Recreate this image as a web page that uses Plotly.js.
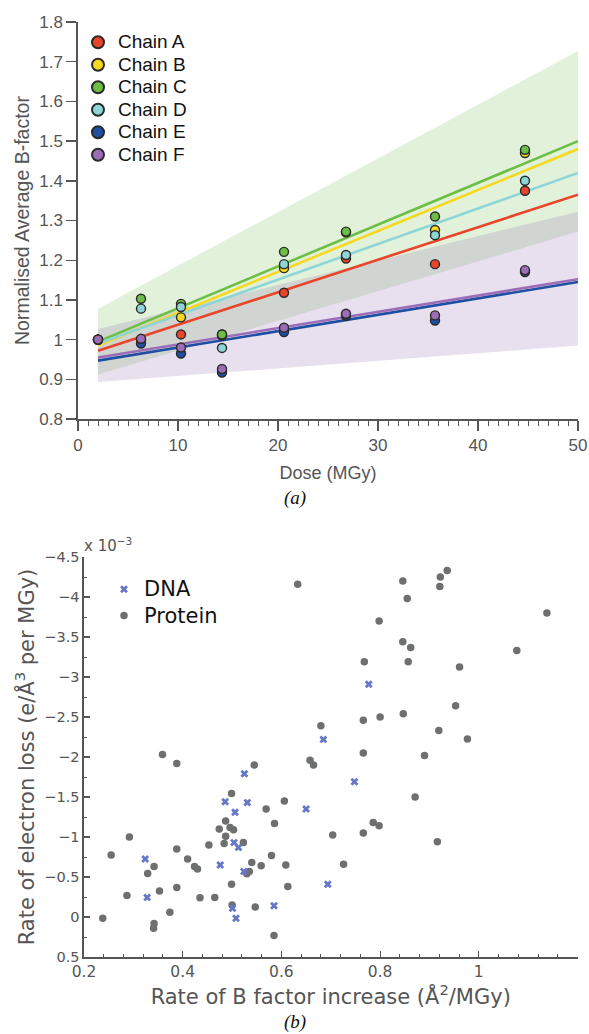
<!DOCTYPE html>
<html><head><meta charset="utf-8">
<script src="https://cdn.plot.ly/plotly-3.0.1.min.js"></script>
<style>html,body{margin:0;padding:0;background:#fff}#chart{width:589px;height:1034px}</style>
</head><body><div id="chart"></div>
<script>
// ---------- Panel (a) data ----------
const doses = [2, 6.3, 10.3, 14.4, 20.6, 26.8, 35.7, 44.7];
const chainNames = ['Chain A', 'Chain B', 'Chain C', 'Chain D', 'Chain E', 'Chain F'];
const chainA = [1.0, 1.0, 1.013, 1.01, 1.118, 1.204, 1.19, 1.375];
const chainB = [1.0, 1.0, 1.056, 1.013, 1.18, 1.27, 1.276, 1.47];
const chainC = [1.0, 1.103, 1.09, 1.013, 1.221, 1.272, 1.31, 1.478];
const chainD = [1.0, 1.078, 1.082, 0.979, 1.19, 1.213, 1.263, 1.40];
const chainE = [1.0, 0.99, 0.965, 0.917, 1.019, 1.06, 1.048, 1.17];
const chainF = [1.0, 1.002, 0.98, 0.926, 1.03, 1.065, 1.061, 1.175];
const chainColors = ['#E8452A', '#F6D81E', '#6DBE45', '#8ED5D6', '#1E4FA3', '#9B6DB6'];
// fitted lines: value at first and last fit dose
const fitDose = [2, 50];
const fitStart = [0.972, 0.985, 0.995, 0.99, 0.947, 0.955];
const fitEnd = [1.365, 1.48, 1.50, 1.42, 1.145, 1.152];
// confidence bands (Chain C green, Chain F purple)
const bandDose = [2, 50];
const bandCUpper = [1.078, 1.727];
const bandCLower = [0.912, 1.272];
const bandFUpper = [1.027, 1.322];
const bandFLower = [0.893, 0.985];

// ---------- Panel (b) data ----------
const dnaX = [0.777, 0.685, 0.525, 0.486, 0.531, 0.506, 0.650, 0.504, 0.513, 0.324, 0.476, 0.524, 0.694, 0.328, 0.501, 0.585, 0.508, 0.748];
const dnaY = [-2.91, -2.22, -1.79, -1.44, -1.43, -1.31, -1.35, -0.93, -0.87, -0.725, -0.65, -0.57, -0.41, -0.245, -0.11, -0.14, 0.016, -1.69];
const protX = [0.633, 0.846, 0.936, 0.922, 0.921, 0.855, 1.138, 0.798, 0.846, 0.862, 1.077, 0.768, 0.857, 0.961, 0.953, 0.766, 0.80, 0.847, 0.68, 0.919, 0.977, 0.766, 0.89, 0.658, 0.665, 0.359, 0.388, 0.545, 0.499, 0.606, 0.569, 0.487, 0.586, 0.474, 0.496, 0.503, 0.292, 0.487, 0.704, 0.523, 0.484, 0.453, 0.388, 0.255, 0.580, 0.41, 0.540, 0.559, 0.609, 0.726, 0.424, 0.43, 0.342, 0.535, 0.53, 0.329, 0.499, 0.613, 0.388, 0.353, 0.287, 0.435, 0.465, 0.50, 0.547, 0.374, 0.238, 0.342, 0.341, 0.585, 0.871, 0.786, 0.798, 0.766, 0.916];
const protY = [-4.16, -4.2, -4.33, -4.25, -4.13, -3.98, -3.80, -3.70, -3.44, -3.37, -3.33, -3.19, -3.19, -3.125, -2.64, -2.46, -2.50, -2.54, -2.39, -2.33, -2.225, -2.05, -2.02, -1.96, -1.90, -2.03, -1.92, -1.90, -1.545, -1.45, -1.35, -1.20, -1.17, -1.10, -1.12, -1.09, -1.00, -1.01, -1.025, -0.93, -0.92, -0.90, -0.85, -0.775, -0.77, -0.725, -0.68, -0.64, -0.65, -0.66, -0.63, -0.60, -0.63, -0.57, -0.54, -0.545, -0.41, -0.38, -0.37, -0.325, -0.27, -0.24, -0.245, -0.15, -0.125, -0.06, 0.016, 0.08, 0.14, 0.23, -1.50, -1.18, -1.14, -1.05, -0.94];

// ---------- Layout geometry ----------
const W = 589, H = 1034;
const fx = p => p / W, fy = p => 1 - p / H;

const chains = [chainA, chainB, chainC, chainD, chainE, chainF];
const traces = [];

function band(upper, lower, fill) {
  traces.push({x: bandDose, y: upper, mode: 'lines', line: {width: 0}, hoverinfo: 'skip', showlegend: false, xaxis: 'x', yaxis: 'y'});
  traces.push({x: bandDose, y: lower, mode: 'lines', line: {width: 0}, fill: 'tonexty', fillcolor: fill, hoverinfo: 'skip', showlegend: false, xaxis: 'x', yaxis: 'y'});
}
band(bandCUpper, bandCLower, 'rgba(109,190,69,0.2)');
band(bandFUpper, bandFLower, 'rgba(150,110,180,0.22)');

chains.forEach((c, i) => {
  traces.push({x: fitDose, y: [fitStart[i], fitEnd[i]], mode: 'lines', line: {color: chainColors[i], width: 2.6}, showlegend: false, hoverinfo: 'skip', xaxis: 'x', yaxis: 'y'});
});
chains.forEach((c, i) => {
  traces.push({x: doses, y: c, mode: 'markers', name: '<span style="font-size:19px">' + chainNames[i] + '</span>',
    marker: {color: chainColors[i], size: 9, line: {color: '#2a2a2a', width: 1.4}}, xaxis: 'x', yaxis: 'y', legend: 'legend'});
});

traces.push({x: protX, y: protY, mode: 'markers', name: '<span style="font-size:21px">Protein</span>', marker: {symbol: 'circle', color: '#6E7070', size: 7.5}, xaxis: 'x2', yaxis: 'y2', legend: 'legend2', legendrank: 2});
traces.push({x: dnaX, y: dnaY, mode: 'markers', name: '<span style="font-size:21px">DNA</span>', marker: {symbol: 'x', color: '#6677C9', size: 7}, xaxis: 'x2', yaxis: 'y2', legend: 'legend2', legendrank: 1});

const topFont = 'Liberation Sans, Arial, sans-serif';
const botFont = 'DejaVu Sans, sans-serif';
const axCol = '#555555';

const layout = {
  width: W, height: H,
  margin: {l: 0, r: 0, t: 0, b: 0},
  paper_bgcolor: '#ffffff', plot_bgcolor: 'rgba(0,0,0,0)',
  showlegend: true,
  xaxis: {
    domain: [fx(78), fx(578)], anchor: 'y', range: [0, 50], dtick: 10, tick0: 0,
    showline: true, linecolor: axCol, linewidth: 1.6, ticks: 'outside', ticklen: 10, tickwidth: 1.4, tickcolor: axCol,
    minor: {dtick: 1, ticks: 'outside', ticklen: 5, tickwidth: 1, tickcolor: axCol, showgrid: false},
    showgrid: false, zeroline: false,
    tickfont: {family: topFont, size: 17, color: axCol},
    title: {text: 'Dose (MGy)', font: {family: topFont, size: 18, color: axCol}, standoff: 12}
  },
  yaxis: {
    domain: [fy(419), fy(22)], anchor: 'x', range: [0.8, 1.8], dtick: 0.1, tick0: 0.8,
    showline: true, linecolor: axCol, linewidth: 1.6, ticks: 'outside', ticklen: 10, tickwidth: 1.4, tickcolor: axCol,
    showgrid: false, zeroline: false,
    tickfont: {family: topFont, size: 17, color: axCol},
    title: {text: 'Normalised Average B-factor', font: {family: topFont, size: 19.5, color: axCol}, standoff: 4}
  },
  xaxis2: {
    domain: [fx(84), fx(577.5)], anchor: 'y2', range: [0.2, 1.2], dtick: 0.2, tick0: 0.2,
    showline: true, linecolor: axCol, linewidth: 1.6, ticks: 'inside', ticklen: 6, tickwidth: 1.2, tickcolor: axCol,
    minor: {dtick: 0.04, ticks: 'inside', ticklen: 3, tickwidth: 1, tickcolor: axCol, showgrid: false},
    showgrid: false, zeroline: false,
    tickfont: {family: botFont, size: 15.5, color: axCol},
    title: {text: 'Rate of B factor increase (Å<sup>2</sup>/MGy)', font: {family: botFont, size: 21, color: axCol}, standoff: 3}
  },
  yaxis2: {
    domain: [fy(957), fy(557)], anchor: 'x2', range: [0.5, -4.5], dtick: 0.5, tick0: 0,
    showline: true, linecolor: axCol, linewidth: 1.6, ticks: 'inside', ticklen: 6, tickwidth: 1.2, tickcolor: axCol,
    minor: {dtick: 0.25, ticks: 'inside', ticklen: 3, tickwidth: 1, tickcolor: axCol, showgrid: false},
    showgrid: false, zeroline: false,
    tickfont: {family: botFont, size: 14.5, color: axCol},
    title: {text: 'Rate of electron loss (e/Å<sup>3</sup> per MGy)', font: {family: botFont, size: 21, color: axCol}, standoff: 4}
  },
  legend: {
    x: fx(78), y: fy(26), xanchor: 'left', yanchor: 'top',
    bgcolor: 'rgba(0,0,0,0)', borderwidth: 0, tracegroupgap: 0, traceorder: 'normal',
    font: {family: topFont, size: 15, color: '#111111'}, itemsizing: 'constant'
  },
  legend2: {
    x: fx(104), y: fy(571), xanchor: 'left', yanchor: 'top',
    bgcolor: 'rgba(0,0,0,0)', borderwidth: 0, traceorder: 'normal',
    font: {family: botFont, size: 18, color: '#111111'}
  },
  annotations: [
    {xref: 'paper', yref: 'paper', x: fx(82), y: fy(545), xanchor: 'left', yanchor: 'middle', showarrow: false,
     text: 'x 10<sup>−3</sup>', font: {family: botFont, size: 15, color: axCol}},
    {xref: 'paper', yref: 'paper', x: 0.5, y: fy(498), xanchor: 'center', yanchor: 'middle', showarrow: false,
     text: '<i>(a)</i>', font: {family: 'Liberation Serif, Times New Roman, serif', size: 19, color: '#111111'}},
    {xref: 'paper', yref: 'paper', x: 0.5, y: fy(1022), xanchor: 'center', yanchor: 'middle', showarrow: false,
     text: '<i>(b)</i>', font: {family: 'Liberation Serif, Times New Roman, serif', size: 19, color: '#111111'}}
  ]
};

Plotly.newPlot('chart', traces, layout, {displayModeBar: false, staticPlot: true});
</script></body></html>
